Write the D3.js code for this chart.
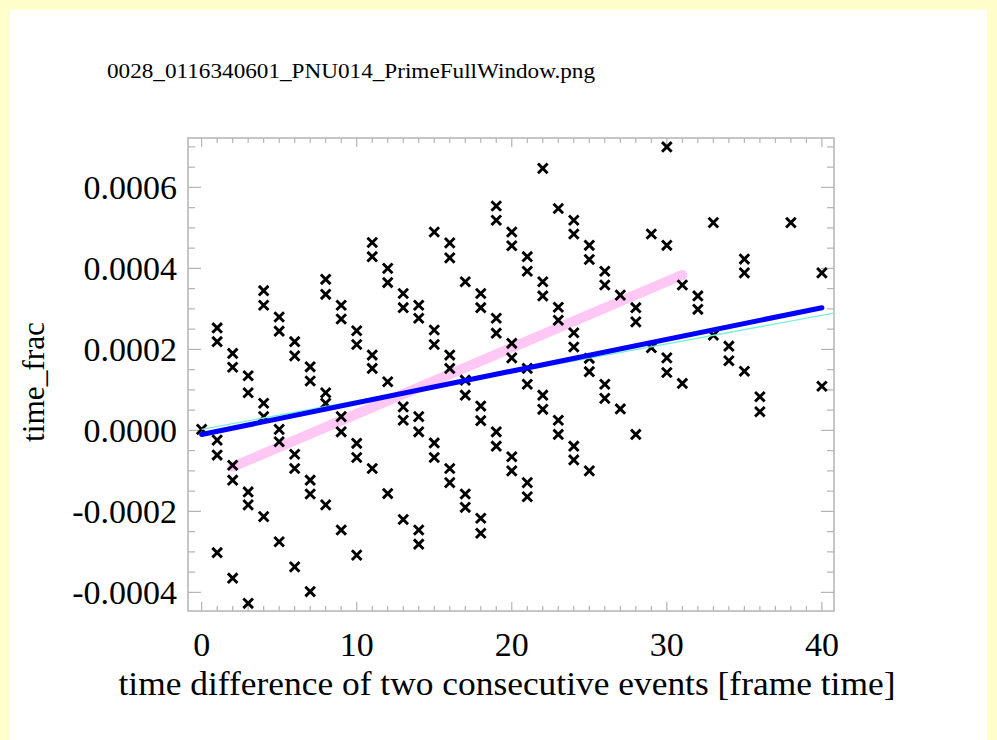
<!DOCTYPE html>
<html>
<head>
<meta charset="utf-8">
<script src="https://cdn.jsdelivr.net/npm/d3@7"></script>
<style>
  html, body { margin: 0; padding: 0; background: #ffffcc; }
  svg { display: block; }
  text { font-family: "Liberation Serif", "Times New Roman", serif; fill: #000; }
</style>
</head>
<body>
<svg id="chart" width="997" height="740"></svg>
<script>
// Event pairs: time difference (frames) and fractional time offset
const deltaT = [
  0,
  1, 1, 1, 1, 1,
  2, 2, 2, 2, 2,
  3, 3, 3, 3, 3,
  4, 4, 4, 4, 4,
  5, 5, 5, 5, 5,
  6, 6, 6, 6, 6,
  7, 7, 7, 7, 7,
  8, 8, 8, 8, 8,
  9, 9, 9, 9, 9,
  10, 10, 10, 10, 10,
  11, 11, 11, 11, 11,
  12, 12, 12, 12,
  13, 13, 13, 13, 13,
  14, 14, 14, 14, 14, 14,
  15, 15, 15, 15, 15,
  16, 16, 16, 16, 16, 16,
  17, 17, 17, 17, 17,
  18, 18, 18, 18, 18, 18,
  19, 19, 19, 19, 19, 19,
  20, 20, 20, 20, 20, 20,
  21, 21, 21, 21, 21, 21,
  22, 22, 22, 22, 22,
  23, 23, 23, 23, 23,
  24, 24, 24, 24, 24, 24,
  25, 25, 25, 25, 25,
  26, 26, 26, 26,
  27, 27,
  28, 28, 28,
  29, 29,
  30, 30, 30, 30,
  31, 31,
  32, 32,
  33, 33,
  34, 34,
  35, 35, 35,
  36, 36,
  38,
  40, 40
];
const timeFrac = [
  0.0000025,
  0.000253, 0.000219, -0.000024, -0.000061, -0.000302,
  0.000190, 0.000156, -0.000086, -0.000123, -0.000365,
  0.000135, 0.000093, -0.000152, -0.000184, -0.000427,
  0.000345, 0.000309, 0.000067, 0.000034, -0.000213,
  0.000280, 0.000245, 0.0000025, -0.000028, -0.000275,
  0.000219, 0.000184, -0.000059, -0.000094, -0.000337,
  0.000157, 0.000122, -0.000123, -0.000157, -0.000398,
  0.000373, 0.000336, 0.000093, 0.000067, -0.000184,
  0.000309, 0.000275, 0.000034, -0.0000035, -0.000246,
  0.000246, 0.000212, -0.000032, -0.000067, -0.000308,
  0.000464, 0.000429, 0.000186, 0.000153, -0.000094,
  0.000400, 0.000365, 0.000120, -0.000156,
  0.000338, 0.000303, 0.000058, 0.000025, -0.000220,
  0.000309, 0.000277, 0.000034, -0.0000035, -0.000246, -0.000281,
  0.000490, 0.000248, 0.000212, -0.000031, -0.000067,
  0.000463, 0.000426, 0.000186, 0.000153, -0.000094, -0.000129,
  0.000367, 0.000124, 0.000087, -0.000157, -0.000190,
  0.000338, 0.000303, 0.000060, 0.000024, -0.000217, -0.000254,
  0.000554, 0.000519, 0.000277, 0.000240, -0.0000035, -0.000039,
  0.000490, 0.000456, 0.000215, 0.000179, -0.000065, -0.000100,
  0.000429, 0.000393, 0.000153, 0.000114, -0.000129, -0.000164,
  0.000647, 0.000367, 0.000332, 0.000087, 0.000052,
  0.000548, 0.000304, 0.000272, 0.000025, -0.000010,
  0.000519, 0.000485, 0.000241, 0.000206, -0.000039, -0.000073,
  0.000457, 0.000422, 0.000178, 0.000145, -0.000100,
  0.000393, 0.000359, 0.000114, 0.000079,
  0.000334, 0.000053,
  0.000303, 0.000268, -0.000010,
  0.000485, 0.000204,
  0.000700, 0.000457, 0.000179, 0.000143,
  0.000359, 0.000116,
  0.000332, 0.000299,
  0.000513, 0.000235,
  0.000208, 0.000172,
  0.000423, 0.000389, 0.000146,
  0.000083, 0.000046,
  0.000513,
  0.000389, 0.000109
];

// Fitted lines (end points)
const fitAllX = [0, 40];
const fitAllY = [-0.000010, 0.000303];
const fitRefX = [0, 41];
const fitRefY = [0.0000025, 0.000291];
const fitShortX = [2, 31];
const fitShortY = [-0.000090, 0.000384];

// Axis ticks and labels
const xMajorTicks = [0, 10, 20, 30, 40];
const xTickLabels = ["0", "10", "20", "30", "40"];
const yMajorTicks = [-0.0004, -0.0002, 0, 0.0002, 0.0004, 0.0006];
const yTickLabels = ["-0.0004", "-0.0002", "0.0000", "0.0002", "0.0004", "0.0006"];

const titleText = "0028_0116340601_PNU014_PrimeFullWindow.png";
const xTitle = "time difference of two consecutive events [frame time]";
const yTitle = "time_frac";

const svg = d3.select("#chart");

// page background: yellow margin with white sheet
svg.append("rect").attr("width", 997).attr("height", 740).attr("fill", "#ffffcc");
svg.append("rect").attr("x", 10).attr("y", 10).attr("width", 977).attr("height", 740).attr("fill", "#ffffff");

const L = 188, R = 834, T = 138, B = 611;
const x = d3.scaleLinear().domain([-0.88, 40.78]).range([L, R]);
const y = d3.scaleLinear().domain([-0.000446, 0.000722]).range([B, T]);

const frameColor = "#b4b4b4";

// minor ticks
const xMinor = d3.range(0, 41, 1);
const yMinor = d3.range(-8, 15).map(k => k * 0.00005);

const axisG = svg.append("g");
axisG.append("rect").attr("x", L).attr("y", T).attr("width", R - L).attr("height", B - T)
  .attr("fill", "none").attr("stroke", frameColor).attr("stroke-width", 1.5);

xMinor.forEach(v => {
  const major = xMajorTicks.includes(v);
  const len = major ? 9 : 5;
  axisG.append("line").attr("x1", x(v)).attr("x2", x(v)).attr("y1", B).attr("y2", B - len)
    .attr("stroke", frameColor).attr("stroke-width", 1.2);
  axisG.append("line").attr("x1", x(v)).attr("x2", x(v)).attr("y1", T).attr("y2", T + len)
    .attr("stroke", frameColor).attr("stroke-width", 1.2);
});
yMinor.forEach(v => {
  const major = yMajorTicks.some(m => Math.abs(m - v) < 1e-9);
  const len = major ? 13 : 7;
  axisG.append("line").attr("x1", L).attr("x2", L + len).attr("y1", y(v)).attr("y2", y(v))
    .attr("stroke", frameColor).attr("stroke-width", 1.2);
  axisG.append("line").attr("x1", R).attr("x2", R - len).attr("y1", y(v)).attr("y2", y(v))
    .attr("stroke", frameColor).attr("stroke-width", 1.2);
});

// tick labels
svg.append("g").selectAll("text").data(xMajorTicks).join("text")
  .attr("x", d => x(d)).attr("y", 656).attr("text-anchor", "middle")
  .attr("font-size", 34).text((d, i) => xTickLabels[i]);
svg.append("g").selectAll("text").data(yMajorTicks).join("text")
  .attr("x", 177).attr("y", d => y(d) + 12).attr("text-anchor", "end")
  .attr("font-size", 34).text((d, i) => yTickLabels[i]);

// titles
svg.append("text").attr("x", 107).attr("y", 78).attr("font-size", 20)
  .attr("textLength", 488).attr("lengthAdjust", "spacingAndGlyphs").text(titleText);
svg.append("text").attr("x", 507).attr("y", 695).attr("text-anchor", "middle")
  .attr("font-size", 34).attr("textLength", 777).attr("lengthAdjust", "spacingAndGlyphs").text(xTitle);
svg.append("text").attr("transform", "translate(44,382) rotate(-90)").attr("text-anchor", "middle")
  .attr("font-size", 31).attr("textLength", 120).attr("lengthAdjust", "spacingAndGlyphs").text(yTitle);

// plot contents, clipped to the frame
svg.append("clipPath").attr("id", "plotClip").append("rect")
  .attr("x", L).attr("y", T).attr("width", R - L).attr("height", B - T);
const plot = svg.append("g").attr("clip-path", "url(#plotClip)");

const line = d3.line().x(d => x(d[0])).y(d => y(d[1]));
const pairs = (xs, ys) => xs.map((v, i) => [v, ys[i]]);

plot.append("path").attr("d", line(pairs(fitShortX, fitShortY)))
  .attr("fill", "none").attr("stroke", "#ffc8f4").attr("stroke-width", 10).attr("stroke-linecap", "round");

const pts = deltaT.map((d, i) => [d, timeFrac[i]]);
plot.append("g").selectAll("path").data(pts).join("path")
  .attr("transform", d => `translate(${x(d[0])},${y(d[1])})`)
  .attr("d", "M-4.8,-4.8L4.8,4.8M-4.8,4.8L4.8,-4.8")
  .attr("stroke", "#000").attr("stroke-width", 2.9).attr("fill", "none");

plot.append("path").attr("d", line(pairs(fitRefX, fitRefY)))
  .attr("fill", "none").attr("stroke", "#78f0d8").attr("stroke-width", 1.3);
plot.append("path").attr("d", line(pairs(fitAllX, fitAllY)))
  .attr("fill", "none").attr("stroke", "#0000ff").attr("stroke-width", 5).attr("stroke-linecap", "round");
</script>
</body>
</html>
